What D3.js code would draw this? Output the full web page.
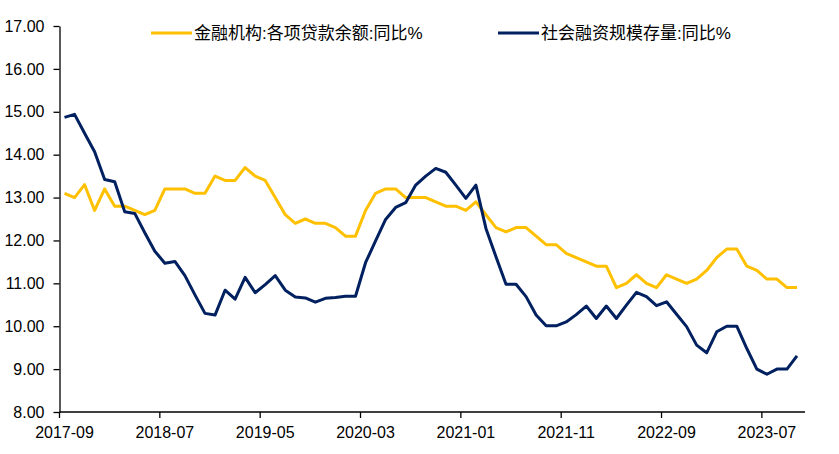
<!DOCTYPE html>
<html>
<head>
<meta charset="utf-8">
<script src="https://cdn.jsdelivr.net/npm/d3@7"></script>
<style>
  html, body { margin: 0; padding: 0; background: #ffffff; }
  svg { display: block; }
  text { font-family: "Liberation Sans", Arial, "Noto Sans CJK SC", sans-serif; }
</style>
</head>
<body>
<div id="chart"></div>
<script>
const months = [
  "2017-09","2017-10","2017-11","2017-12",
  "2018-01","2018-02","2018-03","2018-04","2018-05","2018-06","2018-07","2018-08","2018-09","2018-10","2018-11","2018-12",
  "2019-01","2019-02","2019-03","2019-04","2019-05","2019-06","2019-07","2019-08","2019-09","2019-10","2019-11","2019-12",
  "2020-01","2020-02","2020-03","2020-04","2020-05","2020-06","2020-07","2020-08","2020-09","2020-10","2020-11","2020-12",
  "2021-01","2021-02","2021-03","2021-04","2021-05","2021-06","2021-07","2021-08","2021-09","2021-10","2021-11","2021-12",
  "2022-01","2022-02","2022-03","2022-04","2022-05","2022-06","2022-07","2022-08","2022-09","2022-10","2022-11","2022-12",
  "2023-01","2023-02","2023-03","2023-04","2023-05","2023-06","2023-07","2023-08","2023-09","2023-10"
];

const loanGrowth = [
  13.1,13.0,13.3,12.7,
  13.2,12.8,12.8,12.7,12.6,12.7,13.2,13.2,13.2,13.1,13.1,13.5,
  13.4,13.4,13.7,13.5,13.4,13.0,12.6,12.4,12.5,12.4,12.4,12.3,
  12.1,12.1,12.7,13.1,13.2,13.2,13.0,13.0,13.0,12.9,12.8,12.8,
  12.7,12.9,12.6,12.3,12.2,12.3,12.3,12.1,11.9,11.9,11.7,11.6,
  11.5,11.4,11.4,10.9,11.0,11.2,11.0,10.9,11.2,11.1,11.0,11.1,
  11.3,11.6,11.8,11.8,11.4,11.3,11.1,11.1,10.9,10.9
];

const tsfGrowth = [
  14.87,14.94,14.50,14.07,
  13.42,13.37,12.67,12.63,12.18,11.75,11.47,11.51,11.18,10.73,10.30,10.26,
  10.84,10.63,11.14,10.78,10.97,11.18,10.84,10.68,10.66,10.56,10.65,10.67,
  10.70,10.70,11.48,11.99,12.49,12.77,12.88,13.29,13.50,13.68,13.59,13.29,
  12.98,13.29,12.28,11.62,10.98,10.98,10.69,10.26,10.01,10.01,10.10,10.27,
  10.47,10.18,10.47,10.18,10.49,10.79,10.69,10.48,10.57,10.28,9.99,9.56,
  9.38,9.87,10.00,10.00,9.48,9.00,8.88,9.00,9.00,9.31
];

const xTickLabels = ["2017-09","2018-07","2019-05","2020-03","2021-01","2021-11","2022-09","2023-07"];
const yTicks = [8,9,10,11,12,13,14,15,16,17];

const seriesNames = ["金融机构:各项贷款余额:同比%", "社会融资规模存量:同比%"];
const seriesColors = ["#FFC000", "#002060"];

const W = 839, H = 454;
const svg = d3.select("#chart").append("svg")
  .attr("width", W).attr("height", H)
  .style("background", "#ffffff");

const x = d3.scaleBand().domain(months).range([59.5, 802]).padding(0);
const y = d3.scaleLinear().domain([8, 17]).range([412, 26]);
const bw = x.bandwidth();

// Y axis
const yAxis = svg.append("g")
  .attr("transform", "translate(59.5,0)")
  .call(d3.axisLeft(y).tickValues(yTicks).tickFormat(d3.format(".2f")).tickSize(6).tickPadding(9).tickSizeOuter(0));
yAxis.select(".domain").attr("stroke", "#000").attr("stroke-width", 1.3);
yAxis.selectAll(".tick line").attr("stroke", "#000").attr("stroke-width", 1.3);
yAxis.selectAll(".tick text").attr("fill", "#000").style("font-size", "16px")
  .style("font-family", "'Liberation Sans', Arial, sans-serif");

// X axis
const xAxis = svg.append("g")
  .attr("transform", "translate(0,412)")
  .call(d3.axisBottom(x).tickValues(xTickLabels).tickSize(6).tickPadding(9).tickSizeOuter(0));
xAxis.select(".domain").attr("stroke", "#000").attr("stroke-width", 1.3)
  .attr("d", `M${x.range()[0]},0H${x.range()[1] + 3}`);
xAxis.selectAll(".tick line").attr("stroke", "#000").attr("stroke-width", 1.3)
  .attr("transform", `translate(${-bw / 2},0)`);
xAxis.selectAll(".tick text").attr("fill", "#000").style("font-size", "16px")
  .style("font-family", "'Liberation Sans', Arial, sans-serif");

// Lines
const line = d3.line()
  .x((d, i) => x(months[i]) + bw / 2)
  .y(d => y(d));

[loanGrowth, tsfGrowth].forEach((series, k) => {
  svg.append("path")
    .datum(series)
    .attr("fill", "none")
    .attr("stroke", seriesColors[k])
    .attr("stroke-width", 3)
    .attr("stroke-linejoin", "round")
    .attr("d", line);
});

// Legend
const legendPos = [{x0: 151, tx: 194}, {x0: 498, tx: 541}];
legendPos.forEach((p, k) => {
  svg.append("line")
    .attr("x1", p.x0).attr("x2", p.x0 + 41)
    .attr("y1", 33).attr("y2", 33)
    .attr("stroke", seriesColors[k]).attr("stroke-width", 3);
  svg.append("text")
    .attr("x", p.tx).attr("y", 39)
    .style("font-size", "17px")
    .style("font-family", "'Liberation Sans', Arial, 'Noto Sans CJK SC', sans-serif")
    .attr("fill", "#000")
    .text(seriesNames[k]);
});
</script>
</body>
</html>
